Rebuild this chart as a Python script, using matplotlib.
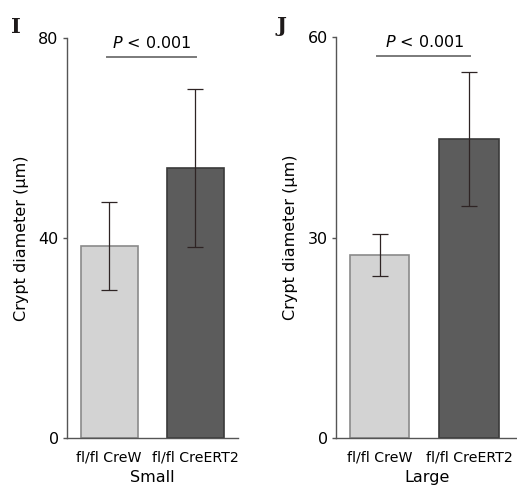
import matplotlib
matplotlib.use("Agg")
import matplotlib.pyplot as plt

plt.rcParams['font.family'] = ['DejaVu Sans']

groups = ["fl/fl CreW", "fl/fl CreERT2"]
small_means = [38.4, 54.0]
small_err = [8.8, 15.8]
large_means = [27.4, 44.8]
large_err = [3.1, 10.0]
panels = [
    dict(label="I", xlabel="Small", means=small_means, err=small_err,
         ymax=80, yticks=[0, 40, 80], pline=76.2, xright=1.50),
    dict(label="J", xlabel="Large", means=large_means, err=large_err,
         ymax=60, yticks=[0, 30, 60], pline=57.2, xright=1.55),
]
pvalue_text = r"$\it{P}$ < 0.001"

face_colors = ["#d3d3d3", "#5c5c5c"]
edge_colors = ["#8a8a8a", "#3a3a3a"]

fig = plt.figure(figsize=(5.17, 4.90), dpi=100)
rects = [[0.1296, 0.1061, 0.331, 0.816], [0.650, 0.1061, 0.352, 0.818]]

for p, r in zip(panels, rects):
    ax = fig.add_axes(r)
    x = list(range(len(groups)))
    ax.bar(x, p["means"], width=0.665, color=face_colors,
           edgecolor=edge_colors, linewidth=1.2, zorder=2)
    ax.errorbar(x, p["means"], yerr=p["err"], fmt="none", ecolor="#2e2424",
                elinewidth=0.9, capsize=5.5, capthick=0.9, zorder=3)
    ax.set_xlim(-0.49, p["xright"])
    ax.set_ylim(0, p["ymax"])
    ax.set_yticks(p["yticks"])
    ax.set_yticks([p["ymax"]], minor=True)
    ax.set_xticks(x)
    ax.set_xticklabels(groups, fontsize=10.2)
    ax.tick_params(axis="x", direction="in", length=6, width=1.2,
                   color="#555555", pad=9)
    ax.tick_params(axis="y", which="major", direction="out", length=3,
                   width=1, color="#555555", labelsize=11.5, pad=3)
    ax.tick_params(axis="y", which="minor", direction="in", length=4,
                   width=1, color="#555555")
    for s in ["top", "right"]:
        ax.spines[s].set_visible(False)
    for s in ["left", "bottom"]:
        ax.spines[s].set_color("#555555")
        ax.spines[s].set_linewidth(1.0)
    ax.set_ylabel("Crypt diameter (μm)", fontsize=11.5, labelpad=7)
    ax.set_xlabel(p["xlabel"], fontsize=11.5, labelpad=4)
    ax.plot([x[0] - 0.03, x[1] + 0.01], [p["pline"], p["pline"]],
            color="#7a7a7a", linewidth=1.4, clip_on=False)
    ax.text((x[0] + x[1]) / 2, p["pline"] + 0.015 * p["ymax"], pvalue_text,
            ha="center", va="bottom", fontsize=11.5)
    ax.text(-0.325, 1.0125, p["label"], transform=ax.transAxes,
            fontsize=15, fontweight="heavy", family="DejaVu Serif",
            ha="left", va="baseline", color="#1e1a1a")

fig.savefig("out.png", dpi=100)
